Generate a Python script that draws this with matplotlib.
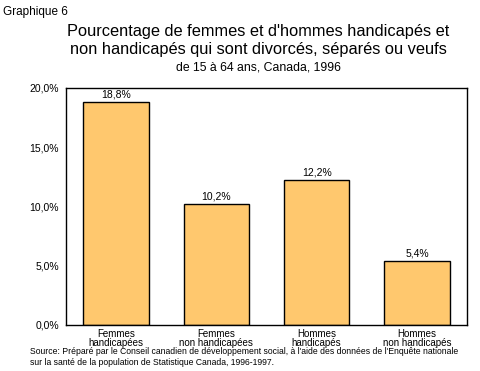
import numpy as np
import matplotlib
matplotlib.use('Agg')
import matplotlib.pyplot as plt

categories = ['Femmes\nhandicapées', 'Femmes\nnon handicapées',
              'Hommes\nhandicapés', 'Hommes\nnon handicapés']
values = [18.8, 10.2, 12.2, 5.4]
yticks = [0, 5, 10, 15, 20]

plt.rcParams['font.family'] = ['Liberation Sans', 'DejaVu Sans']

fig = plt.figure(figsize=(4.81, 3.71), dpi=100)
ax = fig.add_axes([0.137, 0.124, 0.834, 0.639])

x = np.arange(len(categories))
ax.bar(x, values, width=0.65, color='#FFC86E', edgecolor='black', linewidth=1)
for xi, v in zip(x, values):
    ax.text(xi, v + 0.25, ('%.1f%%' % v).replace('.', ','), ha='center', va='bottom', fontsize=7.5)

ax.set_xlim(-0.5, len(categories) - 0.5)
ax.set_ylim(0, 20)
ax.set_yticks(yticks)
ax.set_yticklabels([('%.1f%%' % t).replace('.', ',') for t in yticks], fontsize=7.5)
ax.set_xticks(x)
ax.set_xticklabels(categories, fontsize=7, linespacing=0.8)
ax.tick_params(axis='x', length=0, pad=3)
ax.tick_params(axis='y', length=0, pad=5)
for s in ax.spines.values():
    s.set_linewidth(1)

fig.text(0.006, 0.985, 'Graphique 6', fontsize=8.5, va='top', ha='left')
fig.text(0.537, 0.935, "Pourcentage de femmes et d'hommes handicapés et\nnon handicapés qui sont divorcés, séparés ou veufs",
         fontsize=11.8, ha='center', va='top', linespacing=1.2)
fig.text(0.538, 0.835, 'de 15 à 64 ans, Canada, 1996', fontsize=8.8, ha='center', va='top')
fig.text(0.062, 0.066, "Source: Préparé par le Conseil canadien de développement social, à l'aide des données de l'Enquête nationale\nsur la santé de la population de Statistique Canada, 1996-1997.",
         fontsize=6.25, ha='left', va='top', linespacing=1.3)

fig.savefig('out.png', dpi=100)
